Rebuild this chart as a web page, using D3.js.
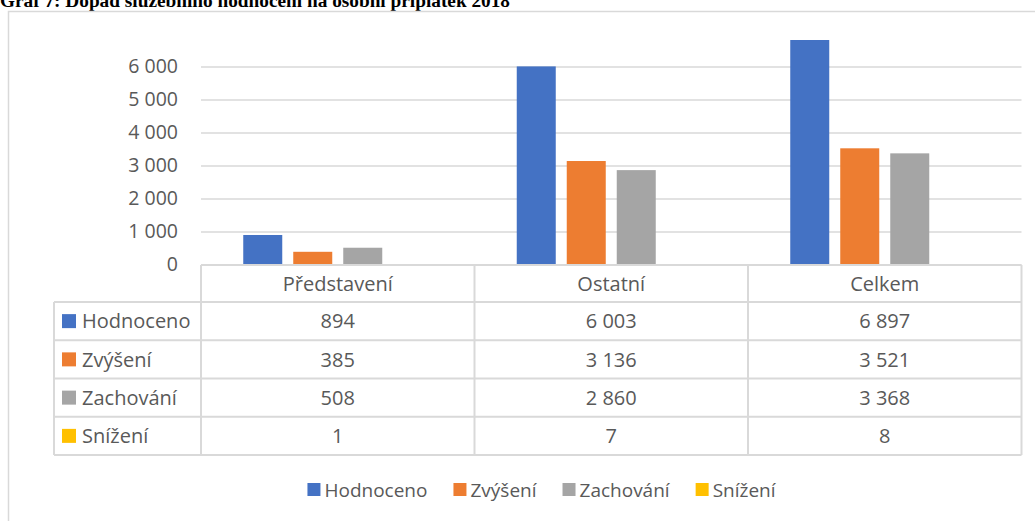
<!DOCTYPE html>
<html>
<head>
<meta charset="utf-8">
<script src="https://cdn.jsdelivr.net/npm/d3@7"></script>
<style>
  body { margin: 0; background: #fff; }
  svg { display: block; }
  text { font-family: "Open Sans", sans-serif; fill: #595959; }
</style>
</head>
<body>
<div id="chart"></div>
<script>
// data
var categories = ["Představení", "Ostatní", "Celkem"];
var seriesNames = ["Hodnoceno", "Zvýšení", "Zachování", "Snížení"];
var hodnoceno = [894, 6003, 6897];
var zvyseni = [385, 3136, 3521];
var zachovani = [508, 2860, 3368];
var snizeni = [1, 7, 8];
var yTicks = [0, 1000, 2000, 3000, 4000, 5000, 6000];
var colors = ["#4472C4", "#ED7D31", "#A5A5A5", "#FFC000"];

var values = [hodnoceno, zvyseni, zachovani, snizeni];

var width = 1035, height = 521;
var grid = "#d9d9d9";

var cz = d3.formatLocale({ decimal: ",", thousands: "\u00a0", grouping: [3], currency: ["", " Kč"] });
var fmt = cz.format(",d");

var svg = d3.select("#chart").append("svg")
    .attr("width", width)
    .attr("height", height);

// title, cut at the top like in the source
svg.append("text")
    .attr("x", 0)
    .attr("y", 7)
    .style("font-family", "'Liberation Serif', 'Times New Roman', serif")
    .style("font-weight", "bold")
    .style("font-size", "19.3px")
    .style("fill", "#000")
    .text("Graf 7: Dopad služebního hodnocení na osobní příplatek 2018");

// chart frame
svg.append("path")
    .attr("d", "M8.5," + height + "V11.5H" + width)
    .attr("fill", "none")
    .attr("stroke", grid)
    .attr("stroke-width", 1.5);

var plotLeft = 201, plotRight = 1021.5, plotTop = 40, plotBottom = 265;

var x0 = d3.scaleBand()
    .domain(categories)
    .range([plotLeft, plotRight]);

var x1 = d3.scaleBand()
    .domain(seriesNames)
    .range([0, x0.bandwidth()])
    .paddingInner(0.22)
    .paddingOuter(0.845);

var y = d3.scaleLinear()
    .domain([0, 6000])
    .range([plotBottom - 0.5, 66.5]);

// gridlines
svg.append("g")
    .attr("class", "grid")
    .attr("transform", "translate(" + plotLeft + ",0)")
    .call(d3.axisLeft(y).tickValues(yTicks).tickSize(-(plotRight - plotLeft)).tickFormat(""))
    .call(function(g) {
        g.select(".domain").remove();
        g.selectAll("line").attr("stroke", grid).attr("stroke-width", 1.5);
    });

// y labels
svg.append("g")
    .attr("transform", "translate(" + plotLeft + ",0)")
    .call(d3.axisLeft(y).tickValues(yTicks).tickSize(0).tickPadding(23).tickFormat(fmt))
    .call(function(g) {
        g.select(".domain").remove();
        g.selectAll("text")
            .style("font-family", "'Open Sans', sans-serif")
            .style("font-size", "19.5px")
            .style("fill", "#595959");
    });

svg.append("clipPath")
    .attr("id", "plotclip")
    .append("rect")
    .attr("x", plotLeft)
    .attr("y", plotTop)
    .attr("width", plotRight - plotLeft)
    .attr("height", plotBottom - plotTop);

var rows = [];
categories.forEach(function(c, i) {
    seriesNames.forEach(function(s, j) {
        rows.push({ cat: c, series: s, value: values[j][i], color: colors[j] });
    });
});

svg.append("g")
    .attr("clip-path", "url(#plotclip)")
    .selectAll("rect")
    .data(rows)
    .enter()
    .append("rect")
    .attr("x", function(d) { return x0(d.cat) + x1(d.series); })
    .attr("y", function(d) { return y(d.value); })
    .attr("width", x1.bandwidth())
    .attr("height", function(d) { return y(0) - y(d.value); })
    .attr("fill", function(d) { return d.color; });

// data table under the axis
var headTop = 265, headH = 37, rowH = 38.25, labelLeft = 54;
var rowY = function(i) { return headTop + headH + i * rowH; };
var tableBottom = rowY(seriesNames.length);

var table = svg.append("g").attr("class", "table");

function hline(x1_, x2_, yy) {
    table.append("line")
        .attr("x1", x1_).attr("x2", x2_)
        .attr("y1", yy).attr("y2", yy)
        .attr("stroke", grid).attr("stroke-width", 2);
}
function vline(xx, y1_, y2_) {
    table.append("line")
        .attr("x1", xx).attr("x2", xx)
        .attr("y1", y1_).attr("y2", y2_)
        .attr("stroke", grid).attr("stroke-width", 2);
}

hline(plotLeft, plotRight, headTop);
for (var i = 0; i <= seriesNames.length; i++) {
    hline(labelLeft, plotRight, rowY(i));
}
vline(labelLeft, rowY(0), tableBottom);
x0.domain().forEach(function(c) { vline(x0(c), headTop, tableBottom); });
vline(plotRight, headTop, tableBottom);

table.selectAll(".head")
    .data(categories)
    .enter()
    .append("text")
    .attr("class", "head")
    .attr("x", function(d) { return x0(d) + x0.bandwidth() / 2; })
    .attr("y", headTop + headH / 2)
    .attr("dy", "0.36em")
    .attr("text-anchor", "middle")
    .style("font-size", "20px")
    .text(function(d) { return d; });

seriesNames.forEach(function(s, j) {
    var cy = rowY(j) + rowH / 2;
    table.append("rect")
        .attr("x", 62)
        .attr("y", cy - 7)
        .attr("width", 14)
        .attr("height", 14)
        .attr("fill", colors[j]);
    table.append("text")
        .attr("x", 82)
        .attr("y", cy)
        .attr("dy", "0.36em")
        .style("font-size", "20px")
        .text(s);
    table.selectAll(".v" + j)
        .data(values[j])
        .enter()
        .append("text")
        .attr("x", function(d, i) { return x0(categories[i]) + x0.bandwidth() / 2; })
        .attr("y", cy)
        .attr("dy", "0.36em")
        .attr("text-anchor", "middle")
        .style("font-size", "20px")
        .text(function(d) { return fmt(d); });
});

// legend
var legend = svg.append("g").attr("class", "legend");
var items = legend.selectAll("g")
    .data(seriesNames)
    .enter()
    .append("g");
items.append("rect")
    .attr("y", 483)
    .attr("width", 13)
    .attr("height", 13)
    .attr("fill", function(d, i) { return colors[i]; });
items.append("text")
    .attr("x", 17)
    .attr("y", 490)
    .attr("dy", "0.36em")
    .style("font-size", "19px")
    .text(function(d) { return d; });

var pos = 0, offsets = [];
items.each(function() {
    offsets.push(pos);
    pos += 17 + d3.select(this).select("text").node().getComputedTextLength() + 26;
});
var total = pos - 26;
var startX = 541.5 - total / 2;
items.attr("transform", function(d, i) { return "translate(" + (startX + offsets[i]) + ",0)"; });
</script>
</body>
</html>
